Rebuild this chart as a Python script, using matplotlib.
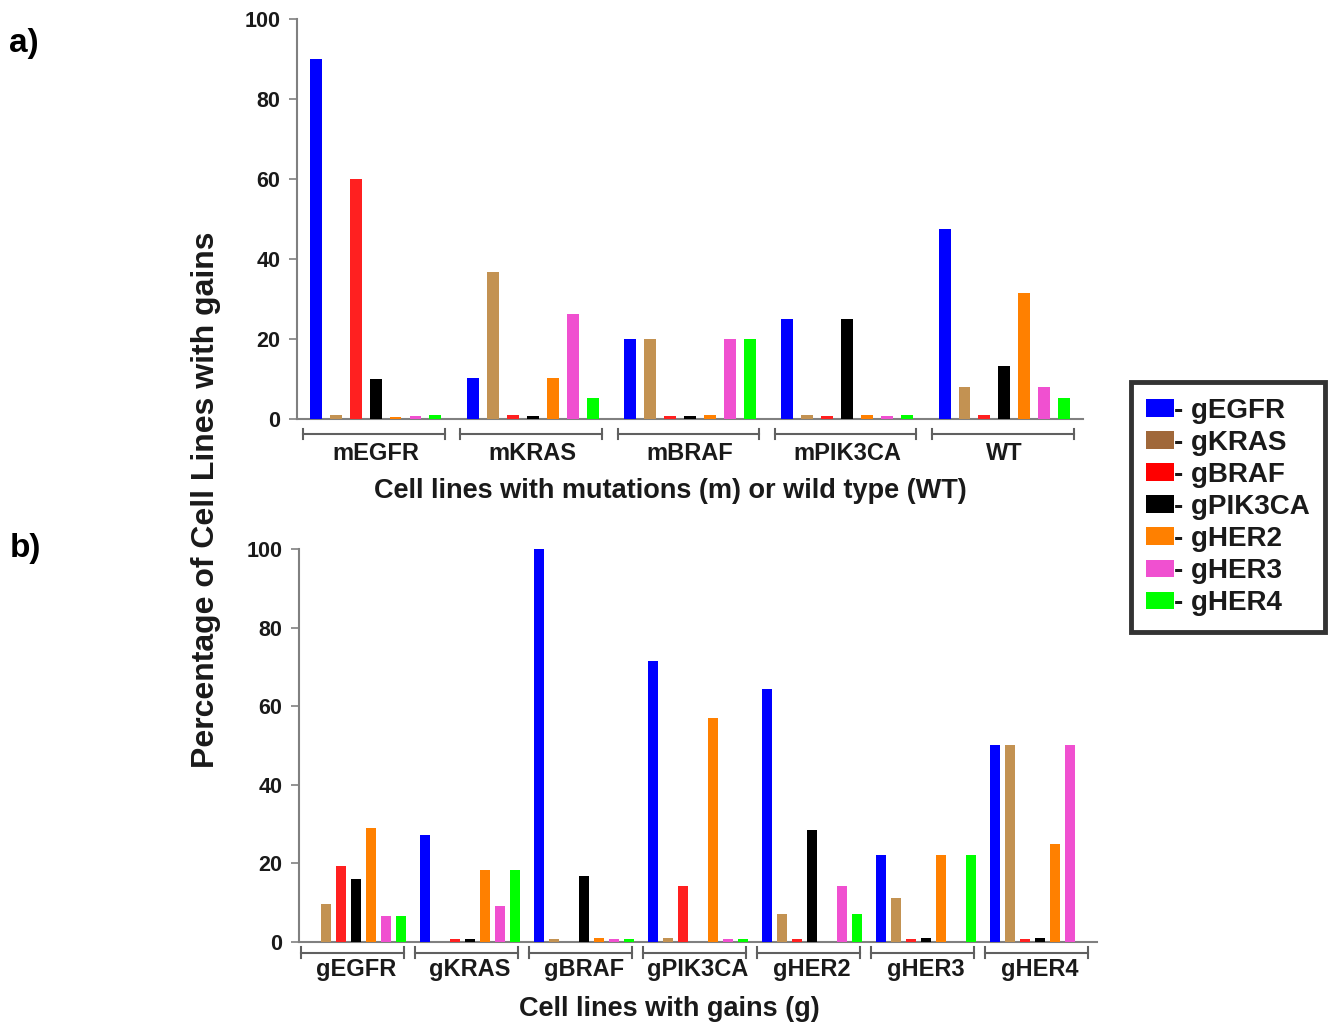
import numpy as np
import matplotlib
matplotlib.use("Agg")
import matplotlib.pyplot as plt
from matplotlib.patches import Patch
import matplotlib.transforms as mtransforms

plt.rcParams['font.family'] = ['Liberation Sans', 'DejaVu Sans']
plt.rcParams['font.weight'] = 'bold'

# series (legend entries)
genes = ["gEGFR", "gKRAS", "gBRAF", "gPIK3CA", "gHER2", "gHER3", "gHER4"]
bar_colors = ["#0000FF", "#C39252", "#FF2020", "#000000", "#FF8000", "#F050D0", "#00FF00"]
legend_colors = ["#0000FF", "#A0683A", "#FF0000", "#000000", "#FF8000", "#F050D0", "#00FF00"]

# panel a) cell lines with mutations or wild type
groups_a = ["mEGFR", "mKRAS", "mBRAF", "mPIK3CA", "WT"]
gEGFR_a = [90, 10.3, 20, 25, 47.4]
gKRAS_a = [0.9, 36.7, 20, 0.9, 7.9]
gBRAF_a = [60, 0.9, 0.7, 0.7, 0.9]
gPIK3CA_a = [10, 0.7, 0.7, 25, 13.2]
gHER2_a = [0.6, 10.3, 0.9, 0.9, 31.6]
gHER3_a = [0.7, 26.3, 20, 0.7, 7.9]
gHER4_a = [0.9, 5.3, 20, 0.9, 5.3]

# panel b) cell lines with gains
groups_b = ["gEGFR", "gKRAS", "gBRAF", "gPIK3CA", "gHER2", "gHER3", "gHER4"]
gEGFR_b = [0, 27.3, 100, 71.4, 64.3, 22.2, 50]
gKRAS_b = [9.7, 0, 0.7, 0.9, 7.1, 11.1, 50]
gBRAF_b = [19.4, 0.8, 0, 14.3, 0.7, 0.8, 0.8]
gPIK3CA_b = [16.1, 0.8, 16.7, 0, 28.6, 0.9, 0.9]
gHER2_b = [29, 18.2, 0.9, 57.1, 0, 22.2, 25]
gHER3_b = [6.5, 9.1, 0.7, 0.7, 14.3, 0, 50]
gHER4_b = [6.5, 18.2, 0.7, 0.7, 7.1, 22.2, 0]

data_a = [gEGFR_a, gKRAS_a, gBRAF_a, gPIK3CA_a, gHER2_a, gHER3_a, gHER4_a]
data_b = [gEGFR_b, gKRAS_b, gBRAF_b, gPIK3CA_b, gHER2_b, gHER3_b, gHER4_b]

fig = plt.figure(figsize=(13.31, 10.25), dpi=100)
ax_a = fig.add_axes([0.2231, 0.5912, 0.5906, 0.3903])
ax_b = fig.add_axes([0.2246, 0.0810, 0.5996, 0.3834])


def draw_panel(ax, groups, data, step, width, br_lo, br_hi, br_y, lab_y, labsize):
    x = np.arange(len(groups))
    for j, vals in enumerate(data):
        ax.bar(x + (j - 3) * step, vals, width, color=bar_colors[j], zorder=3)
    ax.set_xlim(-0.5, len(groups) - 0.5)
    ax.set_ylim(0, 100)
    ax.set_yticks([0, 20, 40, 60, 80, 100])
    ax.tick_params(axis='y', length=6, width=1.2, color='#808080', labelsize=15.5, pad=6)
    ax.tick_params(axis='x', length=0, labelbottom=False)
    for s in ['top', 'right']:
        ax.spines[s].set_visible(False)
    for s in ['left', 'bottom']:
        ax.spines[s].set_color('#808080')
        ax.spines[s].set_linewidth(1.5)
    for lab in ax.get_yticklabels():
        lab.set_fontweight('bold')
        lab.set_color('#1a1a1a')
    tr = mtransforms.blended_transform_factory(ax.transData, ax.transAxes)
    for i, g in enumerate(groups):
        ax.plot([i + br_lo, i + br_hi], [br_y, br_y], color='#606060', lw=1.5,
                transform=tr, clip_on=False)
        for xe in (i + br_lo, i + br_hi):
            ax.plot([xe, xe], [br_y - 0.013, br_y + 0.013], color='#606060', lw=1.5,
                    transform=tr, clip_on=False)
        ax.text(i, lab_y, g, transform=tr, ha='center', va='center',
                fontsize=labsize, fontweight='bold', color='#1a1a1a')


draw_panel(ax_a, groups_a, data_a, 0.127, 0.076, -0.46, 0.44, -0.0375, -0.085, 17)
draw_panel(ax_b, groups_b, data_b, 0.131, 0.088, -0.48, 0.42, -0.027, -0.07, 17)

fig.text(0.504, 0.521, "Cell lines with mutations (m) or wild type (WT)", ha='center',
         va='center', fontsize=19.5, fontweight='bold', color='#1a1a1a')
fig.text(0.503, 0.016, "Cell lines with gains (g)", ha='center',
         va='center', fontsize=19.5, fontweight='bold', color='#1a1a1a')

fig.text(0.155, 0.512, "Percentage of Cell Lines with gains", rotation=90,
         ha='center', va='center', fontsize=23, fontweight='bold', color='#1a1a1a')
fig.text(0.007, 0.958, "a)", fontsize=24, fontweight='bold', va='center')
fig.text(0.007, 0.465, "b)", fontsize=24, fontweight='bold', va='center')

handles = [Patch(facecolor=c, edgecolor='none') for c in legend_colors]
labels = ["- " + g for g in genes]
leg = fig.legend(handles, labels, loc='center', bbox_to_anchor=(0.9226, 0.5054),
                 frameon=True, fancybox=False, handlelength=1.0,
                 handleheight=0.6, handletextpad=0.0, labelspacing=0.22,
                 borderpad=0.55, borderaxespad=0, prop={'weight': 'bold', 'size': 20})
leg.get_frame().set_edgecolor('black')
leg.get_frame().set_linewidth(3.5)
for t in leg.get_texts():
    t.set_color('#1a1a1a')

fig.savefig("out.png", dpi=100)
